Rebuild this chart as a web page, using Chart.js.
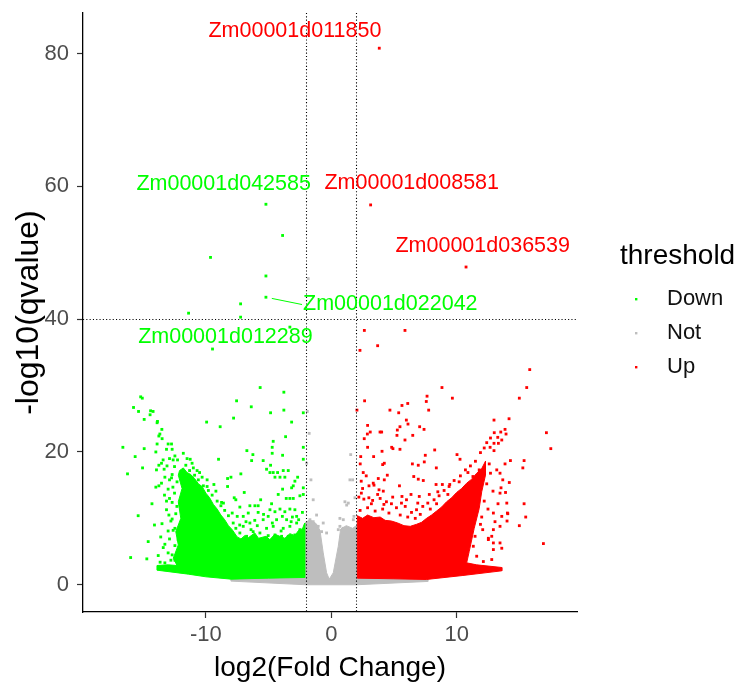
<!DOCTYPE html>
<html>
<head>
<meta charset="utf-8">
<title>Volcano plot</title>
<script src="https://cdn.jsdelivr.net/npm/chart.js@4.4.0/dist/chart.umd.min.js"></script>
<style>
  html, body { margin: 0; padding: 0; background: #fff; }
  #wrap { position: relative; width: 737px; height: 683px; }
</style>
</head>
<body>
<div id="wrap"><canvas id="volcano" width="737" height="683"></canvas></div>
<script>
// ---- data (log2 fold change, -log10 qvalue) ----
const xTicks = [-10, 0, 10];
const yTicks = [0, 20, 40, 60, 80];
const fcCutoff = [-2, 2];
const qCutoff = [40];
const categories = ['Down', 'Not', 'Up'];

// scattered down-regulated genes
const downPoints = [
  [-5.21, 57.3], [-3.88, 52.6], [-9.63, 49.3], [-5.21, 46.5], [-5.21, 43.3], [-7.23, 42.3], [-11.38, 40.9],
  [-7.23, 40.3], [-3.3, 38.8], [-9.47, 35.5],
  [-5.67, 29.7], [-3.78, 29.0], [-15.2, 28.3], [-15.07, 28.1], [-7.55, 27.7], [-15.77, 26.7], [-6.38, 26.8],
  [-15.37, 26.1], [-14.41, 26.2], [-14.21, 26.1], [-14.45, 25.6], [-3.78, 26.3], [-4.84, 25.9], [-14.92, 24.9],
  [-7.79, 25.1], [-13.86, 24.6], [-13.89, 24.4], [-2.23, 25.9], [-9.94, 24.5], [-3.16, 24.5], [-8.86, 23.8],
  [-13.51, 23.4], [-13.67, 22.7], [-13.75, 22.4], [-13.49, 22.0], [-3.64, 22.3], [-13.89, 21.2], [-13.01, 21.2],
  [-12.74, 21.2], [-4.63, 21.6], [-4.71, 20.7], [-16.62, 20.7], [-14.92, 20.5], [-13.14, 20.4], [-12.69, 20.4],
  [-6.73, 20.2], [-13.99, 20.0], [-2.23, 20.7],
  [-4.71, 19.8], [-6.25, 19.6], [-3.88, 19.5], [-15.64, 19.3], [-12.47, 19.4], [-12.26, 18.8], [-12.61, 18.8],
  [-13.41, 18.8], [-11.25, 18.9], [-8.99, 18.9], [-2.23, 18.9], [-6.35, 18.7], [-5.43, 18.7], [-13.54, 18.3],
  [-13.75, 18.0], [-4.84, 18.0], [-15.05, 17.6], [-13.94, 17.3], [-13.33, 17.4], [-5.16, 17.4], [-3.83, 17.2],
  [-3.43, 17.2], [-4.89, 16.9], [-4.63, 16.9], [-4.28, 16.9], [-16.25, 16.7], [-7.21, 16.7], [-12.69, 16.6],
  [-8.0, 16.2], [-13.27, 16.2], [-4.09, 16.2], [-3.7, 16.2], [-4.49, 16.2], [-2.68, 16.2], [-8.27, 16.0],
  [-12.74, 16.1], [-2.9, 15.6], [-13.54, 15.3], [-9.36, 15.1],
  [-11.8, 19.8], [-11.5, 19.0], [-11.1, 18.3], [-11.6, 18.0], [-11.0, 17.6], [-11.3, 17.2], [-10.5, 16.9],
  [-10.9, 16.5], [-10.3, 16.2], [-10.6, 15.8], [-9.9, 15.8], [-10.2, 14.9], [-9.8, 14.2], [-9.5, 13.5],
  [-9.1, 12.6], [-8.8, 11.9], [-8.5, 11.2], [-8.2, 10.4], [-10.7, 17.2], [-9.9, 14.8], [-9.2, 14.1],
  [-8.6, 12.3], [-7.9, 10.8],
  [-13.75, 14.9], [-8.27, 14.8], [-3.03, 14.9], [-13.99, 14.7], [-12.63, 14.7], [-3.16, 14.6], [-2.23, 14.6],
  [-13.01, 14.4], [-3.88, 14.4], [-6.94, 13.9], [-4.23, 13.6], [-2.23, 13.6], [-2.5, 13.4], [-7.74, 13.1],
  [-3.59, 13.0], [-3.3, 13.0], [-3.03, 13.0], [-7.61, 12.8], [-5.63, 12.8], [-13.14, 12.6], [-8.75, 12.4],
  [-12.69, 12.4], [-4.76, 12.2], [-6.49, 11.9], [-6.09, 11.9], [-5.83, 11.9], [-12.31, 11.8], [-7.29, 11.7],
  [-4.09, 11.4], [-3.3, 11.4], [-4.89, 11.3], [-2.9, 11.3], [-13.14, 11.3], [-4.49, 11.0], [-3.7, 11.0],
  [-5.83, 10.9], [-6.62, 10.8], [-12.95, 10.5], [-15.4, 10.4], [-2.76, 10.3], [-5.03, 10.3], [-7.5, 10.3],
  [-7.02, 10.3], [-2.3, 10.9], [-5.4, 10.6], [-3.9, 10.3], [-3.1, 10.2],
  [-12.69, 9.9], [-3.56, 9.8], [-4.36, 9.8], [-5.43, 9.8], [-2.6, 9.8], [-6.1, 9.7], [-12.79, 9.6],
  [-3.2, 9.5], [-6.8, 9.5], [-6.49, 9.3], [-2.76, 9.3], [-4.7, 9.3], [-7.82, 9.3], [-7.3, 9.0], [-5.9, 8.9],
  [-7.02, 8.8], [-4.63, 8.8], [-3.3, 8.8], [-5.16, 8.5], [-3.83, 8.5], [-7.61, 8.5], [-12.47, 8.5],
  [-6.4, 8.3], [-2.5, 8.3], [-12.61, 8.2], [-13.01, 8.1], [-4.0, 8.1], [-6.23, 8.0], [-5.69, 7.8],
  [-7.29, 7.8], [-2.9, 7.5], [-4.49, 7.5], [-5.03, 7.4], [-2.36, 7.3], [-3.43, 7.3], [-3.96, 7.3],
  [-6.75, 7.3], [-12.15, 7.3], [-12.21, 6.8], [-5.55, 6.8], [-6.09, 6.8], [-14.6, 6.5], [-13.27, 6.1],
  [-12.47, 5.9], [-12.15, 5.2], [-13.01, 4.8], [-12.13, 4.8], [-12.69, 4.5], [-16.0, 4.1], [-14.71, 3.9],
  [-12.79, 3.7], [-12.47, 3.7], [-13.65, 3.4], [-13.27, 3.3],
  [-13.4, 5.6], [-13.8, 4.4], [-12.9, 6.9], [-13.5, 9.2], [-12.4, 10.7], [-13.3, 13.5], [-12.9, 13.0],
  [-12.5, 13.8], [-12.3, 15.5], [-12.9, 15.8], [-12.5, 17.8], [-13.1, 17.9], [-12.9, 19.0], [-14.3, 12.2],
  [-14.1, 9.0], [-13.6, 7.2]
];

// scattered up-regulated genes
const upPoints = [
  [3.83, 80.8], [3.14, 57.2], [10.75, 47.85], [2.64, 38.3], [5.88, 38.3], [2.29, 35.3], [3.7, 36.0],
  [15.83, 32.4], [15.59, 29.7], [8.83, 29.7], [15.0, 28.1], [9.66, 28.1], [7.64, 28.4], [7.58, 27.6],
  [7.77, 26.3], [2.66, 27.7], [2.05, 26.3], [6.1, 27.3], [5.64, 27.0], [4.68, 26.3], [5.38, 25.9],
  [5.99, 24.8], [6.12, 24.2], [12.98, 24.8], [14.18, 25.0], [2.9, 24.0], [5.48, 23.8], [5.27, 23.3],
  [7.05, 23.8], [7.4, 23.4], [17.16, 22.9], [17.51, 20.5], [13.86, 23.4], [13.52, 23.0], [13.94, 22.7],
  [13.28, 22.2], [13.6, 21.8], [12.98, 21.3], [13.33, 21.3], [12.67, 20.7], [12.98, 20.2], [3.89, 23.0],
  [4.02, 23.0], [3.11, 23.0], [2.88, 22.7], [2.63, 22.0], [5.24, 22.5], [6.5, 22.5], [5.88, 21.8],
  [2.9, 20.7], [4.05, 20.1], [4.82, 20.7], [4.92, 20.5], [5.48, 20.4], [8.25, 20.3], [7.5, 19.5],
  [10.03, 19.6], [10.27, 18.9], [3.38, 19.3], [2.35, 19.3], [2.31, 18.2], [4.23, 18.3], [4.1, 18.1],
  [6.47, 18.2], [6.94, 18.0], [7.42, 18.5], [8.38, 17.6], [15.38, 18.7], [15.28, 17.6], [14.29, 18.7],
  [13.86, 18.2], [2.55, 16.9], [2.79, 16.4], [2.39, 15.6], [4.47, 16.5], [3.75, 16.0], [3.35, 15.3],
  [4.23, 15.8], [6.58, 16.3], [6.94, 15.9], [7.34, 15.7], [8.36, 15.1], [8.86, 15.1], [9.45, 15.1],
  [5.44, 14.9], [3.01, 14.9], [3.41, 15.0], [2.4, 13.8], [3.81, 14.3], [4.15, 14.1], [13.46, 16.8],
  [13.68, 15.8], [13.54, 14.6], [13.46, 13.8], [14.0, 12.3], [15.38, 12.2], [15.51, 10.2], [15.0, 8.9],
  [14.05, 10.8], [14.02, 9.6], [16.92, 6.2], [5.64, 13.3], [6.36, 13.6], [7.02, 13.3], [7.82, 13.6],
  [12.93, 10.8], [13.06, 9.5], [12.93, 8.3], [12.53, 6.8], [12.93, 6.3], [12.8, 7.3], [12.08, 8.3],
  [12.53, 7.0], [12.93, 5.3], [12.8, 3.8], [12.13, 3.5], [11.6, 4.3], [11.33, 5.8], [11.47, 7.3],
  [13.6, 10.3], [13.46, 8.8], [13.46, 6.3], [13.6, 5.5], [14.08, 10.7],
  [2.2, 13.2], [2.6, 12.9], [3.0, 13.1], [3.3, 12.7], [3.9, 13.0], [4.4, 12.5], [4.8, 12.2], [5.2, 11.6],
  [5.9, 11.8], [6.4, 10.9], [6.8, 11.3], [7.3, 11.8], [7.7, 12.3], [8.2, 12.8], [8.6, 13.4], [9.0, 14.2],
  [9.4, 14.8], [9.8, 15.7], [10.3, 16.4], [10.7, 17.3], [11.1, 17.9], [11.5, 18.6], [11.9, 19.9],
  [12.2, 20.6], [12.4, 21.4], [12.7, 22.1], [13.0, 22.9], [12.6, 18.2], [12.7, 16.8], [12.4, 15.2],
  [12.9, 14.1], [12.2, 12.6], [12.5, 11.4], [12.0, 10.2], [11.9, 9.1], [13.3, 12.2], [13.9, 13.9],
  [14.2, 15.4], [13.2, 17.3],
  [2.3, 11.2], [2.9, 11.6], [3.5, 11.1], [4.1, 11.4], [4.6, 10.8], [5.5, 10.5], [6.1, 10.2], [6.7, 10.0],
  [7.1, 10.6], [7.9, 11.4], [8.4, 12.2], [3.2, 12.2], [4.2, 12.1], [5.6, 12.3], [2.5, 14.5], [3.7, 13.6],
  [4.9, 13.2], [6.0, 12.8], [6.9, 12.3], [8.5, 14.0], [9.3, 13.6], [10.2, 15.5], [10.9, 16.9], [11.3, 16.3],
  [11.8, 17.3]
];

// scattered non-significant genes
const notPoints = [
  [-1.84, 46.1], [-1.91, 26.1], [-1.76, 22.8], [-1.96, 18.3], [-1.62, 15.8], [-1.44, 12.8], [-1.17, 10.5],
  [-1.7, 9.8], [-1.44, 9.5], [-1.04, 8.8], [-1.84, 8.8], [-0.64, 9.3], [-0.77, 8.0], [-0.37, 7.8],
  [1.55, 19.6], [1.71, 15.8], [1.49, 15.8], [1.89, 13.1], [1.36, 12.3], [1.23, 12.0], [1.09, 12.5],
  [0.69, 10.0], [0.96, 9.8], [1.76, 9.8], [1.81, 10.3], [0.69, 8.8], [0.56, 8.3], [0.96, 8.5]
];

// outlines of the solid, over-plotted clusters
const downCore = [
  [-13.9, 2.2], [-13.9, 2.9], [-13.0, 3.0], [-12.3, 2.9], [-12.6, 4.0], [-12.2, 6.0], [-12.4, 8.0],
  [-12.0, 10.0], [-12.2, 12.5], [-11.9, 14.5], [-12.2, 16.5], [-12.1, 17.2], [-11.8, 17.6], [-11.5, 16.9],
  [-11.2, 16.6], [-10.9, 16.0], [-10.6, 15.2], [-10.3, 14.8], [-10.0, 13.8], [-9.7, 13.1], [-9.4, 12.1],
  [-9.1, 11.4], [-8.8, 10.5], [-8.5, 9.8], [-8.2, 8.9], [-7.9, 8.3], [-7.5, 7.2], [-7.2, 6.9], [-6.9, 7.4],
  [-6.6, 7.1], [-6.1, 7.8], [-5.8, 7.0], [-5.2, 7.3], [-4.9, 6.8], [-4.5, 7.6], [-4.1, 7.3], [-3.7, 7.0],
  [-3.3, 7.7], [-2.9, 7.4], [-2.6, 8.2], [-2.3, 8.4], [-2.12, 9.3],
  [-2.12, 1.1], [-5.0, 1.0], [-8.0, 0.85], [-10.0, 1.2], [-11.4, 1.6], [-13.9, 2.2]
];
const upCore = [
  [2.08, 1.0], [2.08, 10.4], [2.5, 10.0], [2.9, 10.5], [3.4, 10.1], [3.9, 10.2], [4.3, 9.7], [4.8, 9.6],
  [5.3, 9.3], [5.8, 8.9], [6.3, 8.8], [6.8, 9.1], [7.2, 9.4], [7.6, 10.0], [8.0, 10.5], [8.4, 11.1],
  [8.8, 11.7], [9.2, 12.5], [9.6, 13.1], [10.0, 13.9], [10.4, 14.5], [10.8, 15.3], [11.2, 15.9],
  [11.6, 16.8], [12.0, 17.5], [12.3, 18.6],
  [12.3, 16.5], [12.0, 14.0], [11.8, 11.5], [11.4, 8.5], [11.0, 5.0], [10.8, 3.3], [11.6, 3.0],
  [13.6, 2.6], [13.6, 2.1], [10.5, 1.4], [7.6, 0.8], [5.0, 0.9], [2.08, 1.0]
];
const notCore = [
  [-8.0, 0.55], [-8.0, 0.9], [-2.12, 1.15], [-2.12, 9.3], [-1.7, 9.8], [-1.2, 9.2], [-0.9, 8.2],
  [-0.64, 4.8], [-0.37, 1.8], [-0.16, 0.85], [0.16, 1.8], [0.56, 5.8], [0.75, 8.4], [1.2, 8.9],
  [1.7, 8.5], [2.08, 9.0], [2.08, 1.1], [7.7, 0.8], [7.7, 0.5], [2.0, 0.0], [-2.0, 0.0], [-8.0, 0.55]
];

// labelled genes: point, label centre (data units), category
const geneNames = ['Zm00001d011850', 'Zm00001d042585', 'Zm00001d008581', 'Zm00001d036539', 'Zm00001d022042', 'Zm00001d012289'];
const geneX = [3.83, -5.21, 3.14, 10.75, -5.21, -9.47];
const geneY = [80.8, 57.3, 57.2, 47.85, 43.3, 35.5];
const geneTextX = [-2.9, -8.58, 6.42, 12.08, 4.71, -8.44];
const geneTextY = [83.4, 60.3, 60.5, 51.0, 42.2, 37.3];
const geneGroup = ['Up', 'Down', 'Up', 'Up', 'Down', 'Down'];
const geneLeader = [false, false, false, false, true, false];

// ---- styling ----
const FONT = "'Liberation Sans', Arial, Helvetica, sans-serif";
const colorOf = { Down: '#00ff00', Not: '#bebebe', Up: '#ff0000' };

const toXY = (pts) => pts.map(([x, y]) => ({ x, y }));

function pointSet(label, pts) {
  return {
    label,
    data: toXY(pts),
    pointStyle: 'rect',
    pointRadius: 2,
    pointBorderWidth: 0,
    backgroundColor: colorOf[label],
    borderColor: colorOf[label],
  };
}

function coreSet(label, pts) {
  return {
    type: 'line',
    label: label + ' (dense)',
    data: toXY(pts),
    fill: 'shape',
    tension: 0,
    pointRadius: 0,
    borderWidth: 1,
    backgroundColor: colorOf[label],
    borderColor: colorOf[label],
  };
}

// dotted cut-off lines
const guides = {
  id: 'guides',
  afterDatasetsDraw(chart) {
    const { ctx, chartArea: a, scales: { x, y } } = chart;
    ctx.save();
    ctx.strokeStyle = '#000';
    ctx.lineWidth = 1.1;
    ctx.setLineDash([1.1, 2.2]);
    fcCutoff.forEach((v) => {
      const px = Math.round(x.getPixelForValue(v)) + 0.5;
      ctx.beginPath();
      ctx.moveTo(px, a.top);
      ctx.lineTo(px, a.bottom);
      ctx.stroke();
    });
    qCutoff.forEach((v) => {
      const py = Math.round(y.getPixelForValue(v)) + 0.5;
      ctx.beginPath();
      ctx.moveTo(a.left, py);
      ctx.lineTo(a.right, py);
      ctx.stroke();
    });
    ctx.restore();
  },
};

// gene name labels
const geneLabels = {
  id: 'geneLabels',
  afterDatasetsDraw(chart) {
    const { ctx, scales: { x, y } } = chart;
    ctx.save();
    ctx.font = `21.5px ${FONT}`;
    ctx.textAlign = 'center';
    ctx.textBaseline = 'middle';
    geneNames.forEach((name, i) => {
      const col = colorOf[geneGroup[i]];
      const cx = x.getPixelForValue(geneTextX[i]);
      const cy = y.getPixelForValue(geneTextY[i]);
      if (geneLeader[i]) {
        const px = x.getPixelForValue(geneX[i]);
        const py = y.getPixelForValue(geneY[i]);
        const lx = cx - ctx.measureText(name).width / 2 - 1;
        const ly = cy;
        const d = Math.hypot(lx - px, ly - py);
        ctx.strokeStyle = col;
        ctx.lineWidth = 1;
        ctx.beginPath();
        ctx.moveTo(px + (lx - px) * 6 / d, py + (ly - py) * 6 / d);
        ctx.lineTo(lx, ly);
        ctx.stroke();
      }
      ctx.fillStyle = col;
      ctx.fillText(name, cx, cy);
    });
    ctx.restore();
  },
};

// ggplot-like legend on the right
const legendBox = {
  id: 'legendBox',
  afterDraw(chart) {
    const { ctx } = chart;
    ctx.save();
    ctx.textAlign = 'left';
    ctx.textBaseline = 'middle';
    ctx.fillStyle = '#000';
    ctx.font = `28px ${FONT}`;
    ctx.fillText('threshold', 620, 256);
    ctx.font = `22px ${FONT}`;
    categories.forEach((name, i) => {
      const cy = 299 + i * 34;
      ctx.fillStyle = colorOf[name];
      ctx.fillRect(635, cy - 1, 2.4, 2.4);
      ctx.fillStyle = '#111';
      ctx.fillText(name, 667, cy);
    });
    ctx.restore();
  },
};

new Chart(document.getElementById('volcano'), {
  type: 'scatter',
  data: {
    datasets: [
      pointSet('Down', downPoints),
      pointSet('Up', upPoints),
      pointSet('Not', notPoints),
      coreSet('Down', downCore),
      coreSet('Up', upCore),
      coreSet('Not', notCore),
    ],
  },
  options: {
    responsive: false,
    animation: false,
    events: [],
    layout: { padding: { top: 13, right: 160, bottom: 0, left: 0 } },
    plugins: {
      legend: { display: false },
      tooltip: { enabled: false },
    },
    scales: {
      x: {
        type: 'linear',
        min: -19.8,
        max: 19.6,
        afterBuildTicks(s) { s.ticks = xTicks.map((v) => ({ value: v })); },
        afterFit(s) {
          s.height = 71;
          s.paddingLeft = 0;
          s.paddingRight = 0;
        },
        ticks: { color: '#4d4d4d', font: { family: FONT, size: 22 }, padding: 4 },
        grid: { display: true, drawOnChartArea: false, drawTicks: true, tickLength: 6, tickColor: '#333', tickWidth: 1.2 },
        border: { display: true, color: '#000', width: 1.3 },
        title: {
          display: true,
          text: 'log2(Fold Change)',
          color: '#000',
          font: { family: FONT, size: 28, lineHeight: 1.0 },
          padding: { top: 0, bottom: 1 },
        },
      },
      y: {
        type: 'linear',
        min: -4.1,
        max: 86.1,
        afterBuildTicks(s) { s.ticks = yTicks.map((v) => ({ value: v })); },
        afterFit(s) {
          s.width = 83;
          s.paddingTop = 0;
          s.paddingBottom = 0;
        },
        ticks: { color: '#4d4d4d', font: { family: FONT, size: 22 }, padding: 8 },
        grid: { display: true, drawOnChartArea: false, drawTicks: true, tickLength: 6, tickColor: '#333', tickWidth: 1.2 },
        border: { display: true, color: '#000', width: 1.3 },
        title: {
          display: true,
          text: '-log10(qvalue)',
          color: '#000',
          font: { family: FONT, size: 32, lineHeight: 1.0 },
          padding: { top: 13, bottom: 0 },
        },
      },
    },
  },
  plugins: [guides, geneLabels, legendBox],
});
</script>
</body>
</html>
